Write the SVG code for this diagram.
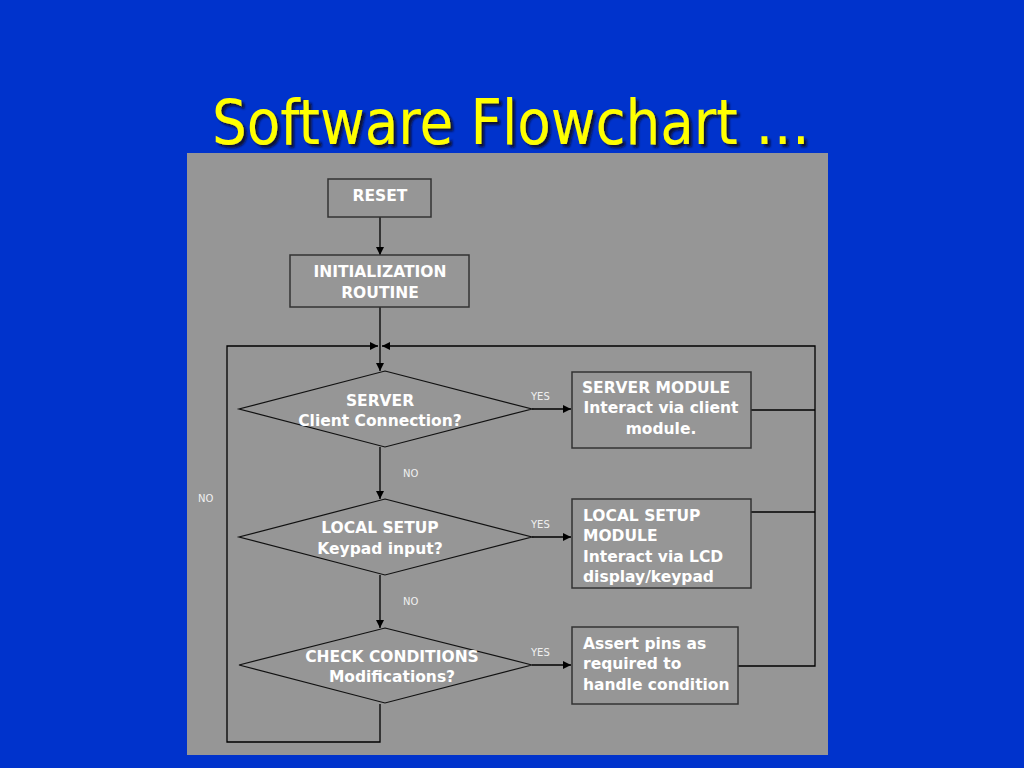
<svg xmlns="http://www.w3.org/2000/svg" width="1024" height="768" viewBox="0 0 1024 768">
<defs>
<marker id="ah" viewBox="0 0 10 10" refX="10" refY="5" markerWidth="8" markerHeight="8" markerUnits="userSpaceOnUse" orient="auto">
<path d="M0,0 L10,5 L0,10 z" fill="#000"/>
</marker>
<filter id="sh" x="-5%" y="-20%" width="110%" height="140%">
<feDropShadow dx="3" dy="3" stdDeviation="0.8" flood-color="#10102a" flood-opacity="0.9"/>
</filter>
</defs>
<style>
.box{fill:#969696;stroke:#333;stroke-width:1.5}
.dia{fill:#969696;stroke:#111;stroke-width:1.2}
.t{font-family:"DejaVu Sans",sans-serif;font-weight:bold;font-size:15.5px;fill:#fff}
.c{text-anchor:middle}
.lbl{font-family:"DejaVu Sans",sans-serif;font-size:10px;fill:#f0f0f0}
.con{fill:none;stroke:#000;stroke-width:1.3}
.arr{marker-end:url(#ah)}
.title{font-family:"DejaVu Sans Condensed","DejaVu Sans",sans-serif;font-size:63px;fill:#ffff00}
</style>
<rect x="0" y="0" width="1024" height="768" fill="#0033cc"/>
<text class="title" x="212" y="144" textLength="598" lengthAdjust="spacingAndGlyphs" filter="url(#sh)">Software Flowchart …</text>
<rect x="187" y="153" width="641" height="602" fill="#969696"/>
<g id="connectors">
<path class="con arr" d="M380,217 V255"/>
<path class="con arr" d="M380,307 V371"/>
<path class="con arr" d="M380,704 V742 H227 V346 H378"/>
<path class="con" d="M751,410 H815"/>
<path class="con" d="M751,512 H815"/>
<path class="con arr" d="M738,666 H815 V346 H382"/>
<path class="con arr" d="M380,447 V499"/>
<path class="con arr" d="M380,575 V628"/>
<path class="con arr" d="M532,409 H571"/>
<path class="con arr" d="M532,537 H571"/>
<path class="con arr" d="M532,665 H571"/>
</g>
<g id="labels">
<text class="lbl" x="531" y="400">YES</text>
<text class="lbl" x="531" y="528">YES</text>
<text class="lbl" x="531" y="656">YES</text>
<text class="lbl" x="403" y="477">NO</text>
<text class="lbl" x="403" y="605">NO</text>
<text class="lbl" x="198" y="502">NO</text>
</g>
<g id="reset">
<rect class="box" x="328" y="179" width="103" height="38"/>
<text class="t c" x="380" y="201">RESET</text>
</g>
<g id="init">
<rect class="box" x="290" y="255" width="179" height="52"/>
<text class="t c" x="380" y="277">INITIALIZATION</text>
<text class="t c" x="380" y="298">ROUTINE</text>
</g>
<g id="server-decision">
<polygon class="dia" points="385,371 532,409 385,447 239,409"/>
<text class="t c" x="380" y="406">SERVER</text>
<text class="t c" x="380" y="426">Client Connection?</text>
</g>
<g id="local-decision">
<polygon class="dia" points="385,499 532,537 385,575 239,537"/>
<text class="t c" x="380" y="533">LOCAL SETUP</text>
<text class="t c" x="380" y="554">Keypad input?</text>
</g>
<g id="check-decision">
<polygon class="dia" points="385,628 532,665 385,703 239,665"/>
<text class="t c" x="392" y="662">CHECK CONDITIONS</text>
<text class="t c" x="392" y="682">Modifications?</text>
</g>
<g id="server-module">
<rect class="box" x="572" y="372" width="179" height="76"/>
<text class="t c" x="656" y="393">SERVER MODULE</text>
<text class="t c" x="661" y="413">Interact via client</text>
<text class="t c" x="661" y="434">module.</text>
</g>
<g id="local-module">
<rect class="box" x="572" y="499" width="179" height="89"/>
<text class="t" x="583" y="521">LOCAL SETUP</text>
<text class="t" x="583" y="541">MODULE</text>
<text class="t" x="583" y="562">Interact via LCD</text>
<text class="t" x="583" y="582">display/keypad</text>
</g>
<g id="assert">
<rect class="box" x="572" y="627" width="166" height="77"/>
<text class="t" x="583" y="649">Assert pins as</text>
<text class="t" x="583" y="669">required to</text>
<text class="t" x="583" y="690">handle condition</text>
</g>
</svg>
